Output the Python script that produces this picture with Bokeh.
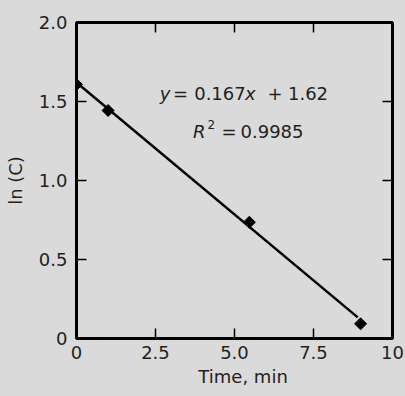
from math import pi
from bokeh.plotting import figure
from bokeh.models import Range1d, LinearAxis, FixedTicker, Label
from bokeh.embed import file_html
from bokeh.resources import INLINE

# ---- data ----
time_min = [0.0, 1.0, 5.47, 8.99]
ln_c = [1.608, 1.443, 0.736, 0.093]
fit_slope = -0.167
fit_intercept = 1.62
fit_x = [0.0, 8.9]
x_ticks = [0, 2.5, 5, 7.5, 10]
x_tick_labels = ["0", "2.5", "5.0", "7.5", "10"]
y_ticks = [0, 0.5, 1.0, 1.5, 2.0]
y_tick_labels = ["0", "0.5", "1.0", "1.5", "2.0"]

BG = "#dadada"
TXT = "#231f20"
FONT = "DejaVu Sans"
FS = "18px"

p = figure(width=405, height=396, x_range=Range1d(0, 10), y_range=Range1d(0, 2),
           output_backend="svg", toolbar_location=None,
           x_axis_location=None, y_axis_location=None,
           min_border_left=76, min_border_right=13, min_border_top=22, min_border_bottom=58,
           background_fill_color=BG, border_fill_color=BG)
p.xgrid.visible = False
p.ygrid.visible = False
p.outline_line_color = "black"
p.outline_line_width = 3
p.outline_line_alpha = 1.0


def make_axis(ticks, labels, show, standoff=9):
    overrides = {float(t): (l if show else "") for t, l in zip(ticks, labels)}
    ax = LinearAxis(ticker=FixedTicker(ticks=ticks, minor_ticks=[]),
                    major_label_overrides=overrides)
    ax.axis_line_color = None
    ax.major_tick_in = 10
    ax.major_tick_out = 0
    ax.major_tick_line_color = "black"
    ax.major_tick_line_width = 1.5
    ax.minor_tick_line_color = None
    ax.major_label_text_font = FONT
    ax.major_label_text_font_size = FS if show else "1px"
    ax.major_label_text_color = TXT
    ax.major_label_standoff = standoff if show else 0
    ax.axis_label_text_font = FONT
    ax.axis_label_text_font_size = FS
    ax.axis_label_text_color = TXT
    ax.axis_label_text_font_style = "normal"
    return ax


xb = make_axis(x_ticks, x_tick_labels, True, standoff=7)
xb.axis_label = "\u00a0\u00a0\u00a0Time, min"
xb.axis_label_standoff = 4
p.add_layout(xb, "below")
p.add_layout(make_axis(x_ticks, x_tick_labels, False), "above")
yl = make_axis(y_ticks, y_tick_labels, True, standoff=9)
yl.axis_label = "ln (C)"
yl.axis_label_standoff = 10
p.add_layout(yl, "left")
p.add_layout(make_axis(y_ticks, y_tick_labels, False), "right")

# regression line and data points
p.line(fit_x, [fit_intercept + fit_slope * x for x in fit_x], line_color="black", line_width=2.5)
p.scatter(time_min, ln_c, marker="square", angle=pi / 4, size=8.5,
          fill_color="black", line_color="black")


def lab(x, y, text, italic=False, align="center", size=FS):
    p.add_layout(Label(x=x, y=y, text=text, text_font=FONT, text_font_size=size,
                       text_color=TXT, text_align=align, text_baseline="alphabetic",
                       text_font_style="italic" if italic else "normal"))


# equation
lab(2.80, 1.551, "y", italic=True)
lab(3.29, 1.551, "=")
lab(4.54, 1.551, "0.167")
lab(5.50, 1.551, "x", italic=True)
lab(6.28, 1.551, "+")
lab(7.326, 1.551, "1.62")
lab(3.883, 1.310, "R", italic=True)
lab(4.263, 1.354, "2", size="12px")
lab(4.826, 1.310, "=")
lab(6.187, 1.310, "0.9985")

template = """{% block preamble %}<style>html, body { background: #dadada; }</style>{% endblock %}"""
open("out.html", "w").write(file_html(p, INLINE, template=template))
